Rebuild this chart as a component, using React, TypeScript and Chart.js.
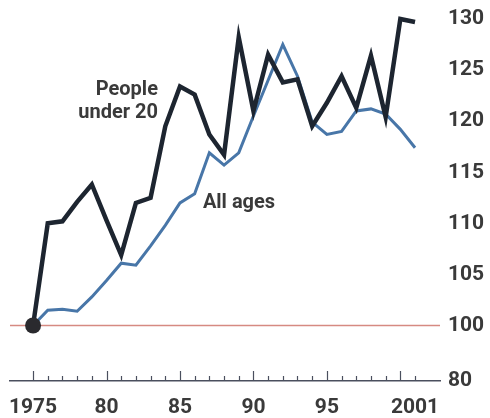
import React, { useEffect, useRef } from "react";
import { Chart, registerables } from "chart.js";

Chart.register(...registerables);

// Index, 1975 = 100
const years = [
  1975, 1976, 1977, 1978, 1979, 1980, 1981, 1982, 1983, 1984, 1985, 1986, 1987, 1988,
  1989, 1990, 1991, 1992, 1993, 1994, 1995, 1996, 1997, 1998, 1999, 2000, 2001,
];
const under20 = [
  100, 110.0, 110.2, 112.1, 113.8, 110.3, 106.9, 112.0, 112.5, 119.5, 123.4, 122.6, 118.7,
  116.7, 128.2, 121.0, 126.5, 123.8, 124.1, 119.5, 121.8, 124.4, 121.3, 126.4, 120.4, 130.0,
  129.7,
];
const allAges = [
  100, 101.5, 101.6, 101.4, 102.8, 104.4, 106.1, 105.9, 107.8, 109.8, 112.0, 112.9, 116.9,
  115.7, 116.9, 120.5, 124.0, 127.5, 124.4, 119.9, 118.7, 119.0, 121.0, 121.2, 120.7, 119.2,
  117.4,
];
const yTickValues = [100, 105, 110, 115, 120, 125, 130];
const yBreakValue = 94.57; // axis floor, labelled as 80 (broken scale)
const yBreakLabel = "80";
const xLabels: Record<number, string> = {
  1975: "1975",
  1980: "80",
  1985: "85",
  1990: "90",
  1995: "95",
  2001: "2001",
};
const baseValue = 100;

const FONT = 'Roboto, "Liberation Sans", sans-serif';
const TEXT = "#3a3a3a";
const AXIS = "#4a4f5e";

const overlay = {
  id: "overlay",
  beforeDatasetsDraw(chart: any) {
    const { ctx, chartArea, scales } = chart;
    const y = scales.y.getPixelForValue(baseValue);
    ctx.save();
    ctx.strokeStyle = "#d68a82";
    ctx.lineWidth = 1.5;
    ctx.beginPath();
    ctx.moveTo(chartArea.left, y);
    ctx.lineTo(chartArea.right, y);
    ctx.stroke();
    ctx.restore();
  },
  afterDraw(chart: any) {
    const { ctx, chartArea, scales } = chart;
    const xs = scales.x;
    const ys = scales.y;
    ctx.save();
    // year ticks pointing up from the axis line
    ctx.strokeStyle = AXIS;
    ctx.lineWidth = 1.2;
    for (const yr of years) {
      const px = Math.round(xs.getPixelForValue(yr)) + 0.5;
      const len = yr % 5 === 0 ? 10 : 5;
      ctx.beginPath();
      ctx.moveTo(px, chartArea.bottom);
      ctx.lineTo(px, chartArea.bottom - len);
      ctx.stroke();
    }
    // series labels
    ctx.fillStyle = TEXT;
    ctx.font = `bold 20px ${FONT}`;
    ctx.textBaseline = "alphabetic";
    ctx.textAlign = "right";
    const rx = xs.getPixelForValue(1983.5);
    ctx.fillText("People", rx, ys.getPixelForValue(122.55));
    ctx.fillText("under 20", rx, ys.getPixelForValue(120.3));
    ctx.textAlign = "left";
    ctx.fillText("All ages", xs.getPixelForValue(1986.56), ys.getPixelForValue(111.5));
    ctx.restore();
  },
};

export default function App() {
  const ref = useRef<HTMLCanvasElement>(null);

  useEffect(() => {
    if (!ref.current) return;
    const chart = new Chart(ref.current, {
      type: "line",
      data: {
        datasets: [
          {
            label: "Start",
            data: [{ x: years[0], y: under20[0] }],
            showLine: false,
            pointRadius: 8,
            pointBackgroundColor: "#2a2a2e",
            pointBorderWidth: 0,
            order: 0,
          },
          {
            label: "People under 20",
            data: years.map((x, i) => ({ x, y: under20[i] })),
            borderColor: "#1d2530",
            borderWidth: 4.5,
            pointRadius: 0,
            tension: 0,
            order: 1,
          },
          {
            label: "All ages",
            data: years.map((x, i) => ({ x, y: allAges[i] })),
            borderColor: "#4876a8",
            borderWidth: 3,
            pointRadius: 0,
            tension: 0,
            order: 2,
          },
        ],
      },
      options: {
        animation: false,
        responsive: false,
        events: [],
        layout: { padding: { left: 10, top: 10, right: 0, bottom: 0 } },
        plugins: { legend: { display: false }, tooltip: { enabled: false } },
        scales: {
          x: {
            type: "linear",
            min: 1973.43,
            max: 2002.7,
            grid: { display: false },
            border: { display: true, color: AXIS, width: 1.5 },
            afterBuildTicks: (s: any) => {
              s.ticks = Object.keys(xLabels).map((k) => ({ value: Number(k) }));
            },
            afterFit: (s: any) => {
              s.height = 37;
              s.paddingLeft = 0;
              s.paddingRight = 0;
            },
            ticks: {
              autoSkip: false,
              maxRotation: 0,
              padding: 6,
              color: TEXT,
              font: { family: FONT, size: 21, weight: "bold" },
              callback: (v: any) => xLabels[Number(v)] ?? "",
            },
          },
          y: {
            type: "linear",
            position: "right",
            min: yBreakValue,
            max: 130.88,
            grid: { display: false, drawTicks: false },
            border: { display: false },
            afterBuildTicks: (s: any) => {
              s.ticks = [yBreakValue, ...yTickValues].map((value) => ({ value }));
            },
            afterFit: (s: any) => {
              s.width = 50;
              s.paddingTop = 0;
              s.paddingBottom = 0;
            },
            ticks: {
              autoSkip: false,
              padding: 8,
              color: TEXT,
              font: { family: FONT, size: 21, weight: "bold" },
              callback: (v: any) => (Number(v) < baseValue - 1 ? yBreakLabel : String(v)),
            },
          },
        },
      },
      plugins: [overlay],
    });
    return () => chart.destroy();
  }, []);

  return (
    <div style={{ position: "absolute", left: 0, top: 0, width: 490, height: 418, background: "#fff" }}>
      <canvas ref={ref} width={490} height={418} style={{ display: "block" }} />
    </div>
  );
}
